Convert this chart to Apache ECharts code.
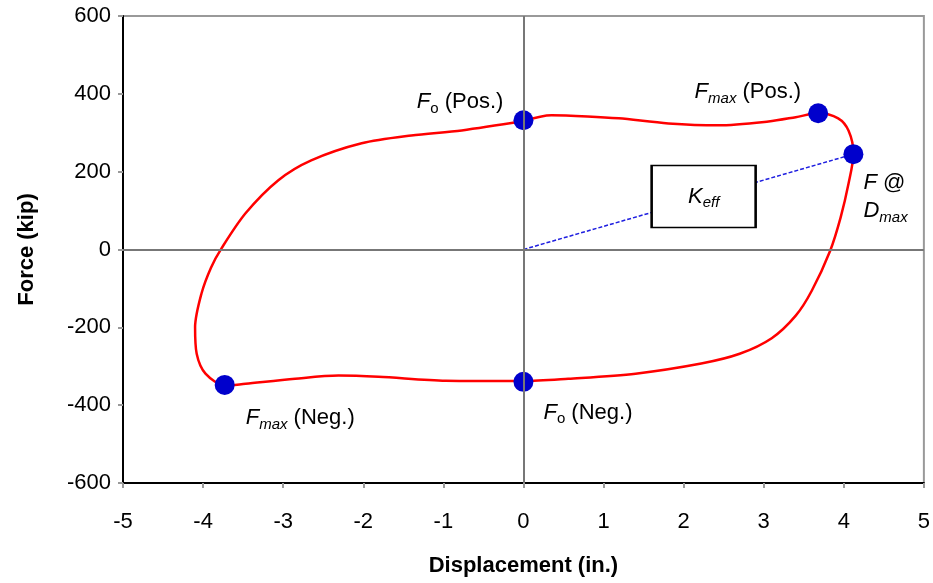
<!DOCTYPE html>
<html>
<head>
<meta charset="utf-8">
<script src="https://cdn.jsdelivr.net/npm/echarts@6/dist/echarts.min.js"></script>
<style>html,body{margin:0;padding:0;background:#fff}#c{width:933px;height:583px}</style>
</head>
<body>
<div id="c"></div>
<script>
// Hysteresis loop (displacement in., force kip)
var loopX = [0, 0.35, 0.8, 1.19, 1.81, 2.43, 3.06, 3.4, 3.68, 3.93, 4.06, 4.12,
  4.06, 3.96, 3.83, 3.60, 3.40, 3.10, 2.70, 2.22, 1.40, 0.56, 0,
  -0.97, -1.81, -2.31, -2.85, -3.47, -3.72,
  -3.97, -4.08, -4.10, -4.02, -3.90, -3.77, -3.47, -3.06, -2.65, -2.02, -1.40, -0.77, 0];
var loopY = [330, 345, 342, 337, 324, 319, 329, 340, 350, 337, 305, 247,
  170, 82, -3, -106, -170, -228, -268, -293, -319, -332, -338,
  -337, -327, -324, -332, -345, -350,
  -319, -268, -200, -113, -46, 3, 93, 178, 229, 273, 293, 306, 330];

// Key points
var pointNames = ['Fo (Pos.)', 'Fmax (Pos.)', 'F @ Dmax', 'Fmax (Neg.)', 'Fo (Neg.)'];
var pointX = [0, 3.68, 4.12, -3.73, 0];
var pointY = [332, 350, 245, -348, -340];

// Effective stiffness line
var keffX = [0, 4.12];
var keffY = [0, 245];
var keffBox = [2.25, 136];

// Axes
var xTicks = [-5, -4, -3, -2, -1, 0, 1, 2, 3, 4, 5];
var yTicks = [-600, -400, -200, 0, 200, 400, 600];

var FONT = 'Liberation Sans, Arial, sans-serif';
var rich = {
  f: {fontStyle: 'italic', fontSize: 22, fontFamily: FONT, lineHeight: 28, color: '#000', verticalAlign: 'middle'},
  so: {fontSize: 15, fontFamily: FONT, lineHeight: 15, color: '#000', verticalAlign: 'bottom'},
  sm: {fontStyle: 'italic', fontSize: 15, fontFamily: FONT, lineHeight: 15, color: '#000', verticalAlign: 'bottom'},
  n: {fontSize: 22, fontFamily: FONT, lineHeight: 28, color: '#000', verticalAlign: 'middle'}
};
var labelText = [
  '{f|F}{so|o}{n| (Pos.)}',
  '{f|F}{sm|max}{n| (Pos.)}',
  '{f|F}{n| @}\n{f|D}{sm|max}',
  '{f|F}{sm|max}{n| (Neg.)}',
  '{f|F}{so|o}{n| (Neg.)}'
];
var labelOffset = [[-20, -18], [-17, -21], [10, 43], [21, 33], [20, 31]];
var labelAlign = ['right', 'right', 'left', 'left', 'left'];

var loopData = loopX.map(function (x, i) { return [x, loopY[i]]; });
var pointData = pointX.map(function (x, i) {
  return {
    name: pointNames[i],
    value: [x, pointY[i]],
    label: {show: true, position: 'inside', align: labelAlign[i], offset: labelOffset[i],
            formatter: labelText[i], rich: rich}
  };
});
var keffData = keffX.map(function (x, i) { return [x, keffY[i]]; });

var chart = echarts.init(document.getElementById('c'), null, {renderer: 'canvas'});
chart.setOption({
  animation: false,
  grid: {left: 123, right: 6, top: 16, bottom: 100, show: true, borderColor: '#999', borderWidth: 2, backgroundColor: 'transparent'},
  xAxis: {
    type: 'value', min: xTicks[0], max: xTicks[xTicks.length - 1], interval: 1,
    name: 'Displacement (in.)', nameLocation: 'middle', nameGap: 72,
    nameTextStyle: {fontFamily: FONT, fontWeight: 'bold', fontSize: 22, color: '#000'},
    axisLine: {onZero: false, lineStyle: {color: '#000', width: 2}},
    axisTick: {show: true, inside: false, length: 5, lineStyle: {color: '#999', width: 2}},
    axisLabel: {fontFamily: FONT, fontSize: 22, color: '#000', margin: 28},
    splitLine: {show: false}
  },
  yAxis: {
    type: 'value', min: yTicks[0], max: yTicks[yTicks.length - 1], interval: 200,
    name: 'Force (kip)', nameLocation: 'middle', nameGap: 85, nameRotate: 90,
    nameTextStyle: {fontFamily: FONT, fontWeight: 'bold', fontSize: 22, color: '#000'},
    axisLine: {onZero: false, lineStyle: {color: '#000', width: 2}},
    axisTick: {show: true, inside: false, length: 5, lineStyle: {color: '#999', width: 2}},
    axisLabel: {fontFamily: FONT, fontSize: 22, color: '#000', margin: 12},
    splitLine: {show: false}
  },
  series: [
    {
      type: 'line', data: [], silent: true, z: 1,
      markLine: {
        silent: true, symbol: 'none', label: {show: false},
        lineStyle: {color: '#777', width: 2, type: 'solid'},
        data: [{xAxis: 0}, {yAxis: 0}]
      }
    },
    {
      type: 'line', data: keffData, showSymbol: false, silent: true, z: 2,
      lineStyle: {color: '#1f1fe0', width: 1.5, type: [4, 2]},
      markPoint: {
        silent: true, symbol: 'rect', symbolSize: [104, 62],
        itemStyle: {color: '#fff', borderColor: '#000', borderWidth: 2},
        label: {show: true, formatter: '{f|K}{sm|eff}', rich: rich},
        data: [{coord: keffBox}]
      }
    },
    {
      type: 'line', data: loopData, smooth: 0.3, showSymbol: false, silent: true, z: 3,
      lineStyle: {color: '#ff0000', width: 2.5}
    },
    {
      type: 'scatter', data: pointData, symbolSize: 20, z: 4, silent: true,
      itemStyle: {color: '#0000cc', opacity: 1}
    }
  ]
});
</script>
</body>
</html>
